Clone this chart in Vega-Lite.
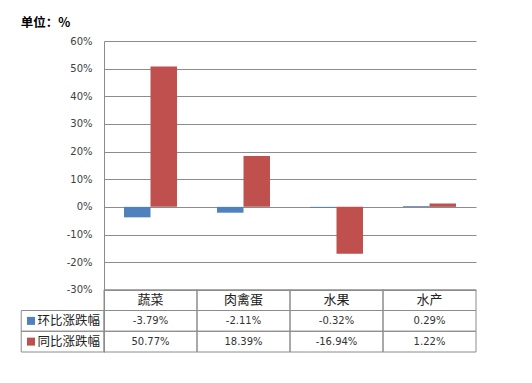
{
  "$schema": "https://vega.github.io/schema/vega-lite/v6.json",
  "width": 372,
  "height": 311,
  "padding": {"left": 20, "top": 16, "right": 57, "bottom": 31},
  "background": "white",
  "title": {"text": "单位：%", "anchor": "start", "frame": "bounds", "offset": 7, "font": "Noto Sans CJK SC", "fontSize": 12.5, "fontWeight": "bold", "color": "#000000"},
  "data": {"values": [
    {"cat": "蔬菜", "series": "环比涨跌幅", "value": -0.0379},
    {"cat": "蔬菜", "series": "同比涨跌幅", "value": 0.5077},
    {"cat": "肉禽蛋", "series": "环比涨跌幅", "value": -0.0211},
    {"cat": "肉禽蛋", "series": "同比涨跌幅", "value": 0.1839},
    {"cat": "水果", "series": "环比涨跌幅", "value": -0.0032},
    {"cat": "水果", "series": "同比涨跌幅", "value": -0.1694},
    {"cat": "水产", "series": "环比涨跌幅", "value": 0.0029},
    {"cat": "水产", "series": "同比涨跌幅", "value": 0.0122}
  ]},
  "resolve": {"scale": {"x": "independent", "y": "independent"}},
  "layer": [
    {
      "mark": {"type": "bar"},
      "encoding": {
        "x": {"field": "cat", "type": "nominal", "sort": null, "scale": {"paddingInner": 0, "paddingOuter": 0}, "axis": null},
        "xOffset": {"field": "series", "type": "nominal", "sort": ["环比涨跌幅", "同比涨跌幅"], "scale": {"paddingInner": 0, "paddingOuter": 0.755}},
        "y": {"field": "value", "type": "quantitative", "scale": {"domain": [-0.525, 0.6], "nice": false, "zero": false},
              "axis": {"values": [-0.3, -0.2, -0.1, 0, 0.1, 0.2, 0.3, 0.4, 0.5, 0.6], "format": ".0%", "title": null, "grid": true, "gridColor": "#8c8c8c", "gridWidth": 1, "domainColor": "#8c8c8c", "ticks": false, "labelPadding": 12, "labelFont": "DejaVu Sans", "labelFontSize": 10, "labelColor": "#404040"}},
        "color": {"field": "series", "type": "nominal", "scale": {"domain": ["环比涨跌幅", "同比涨跌幅"], "range": ["#4F81BD", "#C0504D"]}, "legend": null}
      }
    },
    {
      "transform": [{"filter": "datum.series == '环比涨跌幅'"}],
      "mark": {"type": "rect", "fill": "transparent", "stroke": "#8c8c8c", "strokeWidth": 1},
      "encoding": {
        "x": {"field": "cat", "type": "nominal", "sort": null, "scale": {"paddingInner": 0, "paddingOuter": 0}, "axis": null},
        "y": {"datum": "hdr", "type": "nominal", "scale": {"domain": ["hdr", "环比涨跌幅", "同比涨跌幅"], "paddingInner": 0, "paddingOuter": 0, "range": [{"expr": "height - 62.25"}, {"expr": "height"}]}, "axis": null}
      }
    },
    {
      "transform": [{"filter": "datum.series == '环比涨跌幅'"}],
      "mark": {"type": "text", "font": "Noto Sans CJK SC", "fontSize": 13, "color": "#222222", "baseline": "middle"},
      "encoding": {
        "x": {"field": "cat", "type": "nominal", "sort": null, "scale": {"paddingInner": 0, "paddingOuter": 0}, "axis": null},
        "y": {"datum": "hdr", "type": "nominal", "scale": {"domain": ["hdr", "环比涨跌幅", "同比涨跌幅"], "paddingInner": 0, "paddingOuter": 0, "range": [{"expr": "height - 62.25"}, {"expr": "height"}]}, "axis": null},
        "text": {"field": "cat"}
      }
    },
    {
      "mark": {"type": "rect", "fill": "transparent", "stroke": "#8c8c8c", "strokeWidth": 1},
      "encoding": {
        "x": {"field": "cat", "type": "nominal", "sort": null, "scale": {"paddingInner": 0, "paddingOuter": 0}, "axis": null},
        "y": {"field": "series", "type": "nominal", "scale": {"domain": ["hdr", "环比涨跌幅", "同比涨跌幅"], "paddingInner": 0, "paddingOuter": 0, "range": [{"expr": "height - 62.25"}, {"expr": "height"}]}, "axis": null}
      }
    },
    {
      "mark": {"type": "text", "font": "DejaVu Sans", "fontSize": 10, "color": "#333333", "baseline": "middle"},
      "encoding": {
        "x": {"field": "cat", "type": "nominal", "sort": null, "scale": {"paddingInner": 0, "paddingOuter": 0}, "axis": null},
        "y": {"field": "series", "type": "nominal", "scale": {"domain": ["hdr", "环比涨跌幅", "同比涨跌幅"], "paddingInner": 0, "paddingOuter": 0, "range": [{"expr": "height - 62.25"}, {"expr": "height"}]}, "axis": null},
        "text": {"field": "value", "format": ".2%"}
      }
    },
    {
      "transform": [{"filter": "datum.cat == '蔬菜'"}],
      "mark": {"type": "rect", "fill": "transparent", "stroke": "#8c8c8c", "strokeWidth": 1},
      "encoding": {
        "x": {"datum": -0.89, "type": "quantitative", "scale": {"domain": [0, 4], "nice": false, "zero": false}, "axis": null},
        "x2": {"datum": 0},
        "y": {"field": "series", "type": "nominal", "scale": {"domain": ["hdr", "环比涨跌幅", "同比涨跌幅"], "paddingInner": 0, "paddingOuter": 0, "range": [{"expr": "height - 62.25"}, {"expr": "height"}]}, "axis": null}
      }
    },
    {
      "transform": [{"filter": "datum.cat == '蔬菜'"}],
      "mark": {"type": "point", "shape": "square", "filled": true, "size": 64, "opacity": 1},
      "encoding": {
        "x": {"datum": -0.785, "type": "quantitative", "scale": {"domain": [0, 4], "nice": false, "zero": false}, "axis": null},
        "y": {"field": "series", "type": "nominal", "scale": {"domain": ["hdr", "环比涨跌幅", "同比涨跌幅"], "paddingInner": 0, "paddingOuter": 0, "range": [{"expr": "height - 62.25"}, {"expr": "height"}]}, "axis": null},
        "color": {"field": "series", "type": "nominal", "scale": {"domain": ["环比涨跌幅", "同比涨跌幅"], "range": ["#4F81BD", "#C0504D"]}, "legend": null}
      }
    },
    {
      "transform": [{"filter": "datum.cat == '蔬菜'"}],
      "mark": {"type": "text", "font": "Noto Sans CJK SC", "fontSize": 12.5, "color": "#222222", "align": "right", "baseline": "middle"},
      "encoding": {
        "x": {"datum": -0.043, "type": "quantitative", "scale": {"domain": [0, 4], "nice": false, "zero": false}, "axis": null},
        "y": {"field": "series", "type": "nominal", "scale": {"domain": ["hdr", "环比涨跌幅", "同比涨跌幅"], "paddingInner": 0, "paddingOuter": 0, "range": [{"expr": "height - 62.25"}, {"expr": "height"}]}, "axis": null},
        "text": {"field": "series"}
      }
    }
  ],
  "config": {
    "view": {"stroke": null},
    "locale": {"number": {"decimal": ".", "thousands": ",", "grouping": [3], "currency": ["$", ""], "minus": "-"}}
  }
}
